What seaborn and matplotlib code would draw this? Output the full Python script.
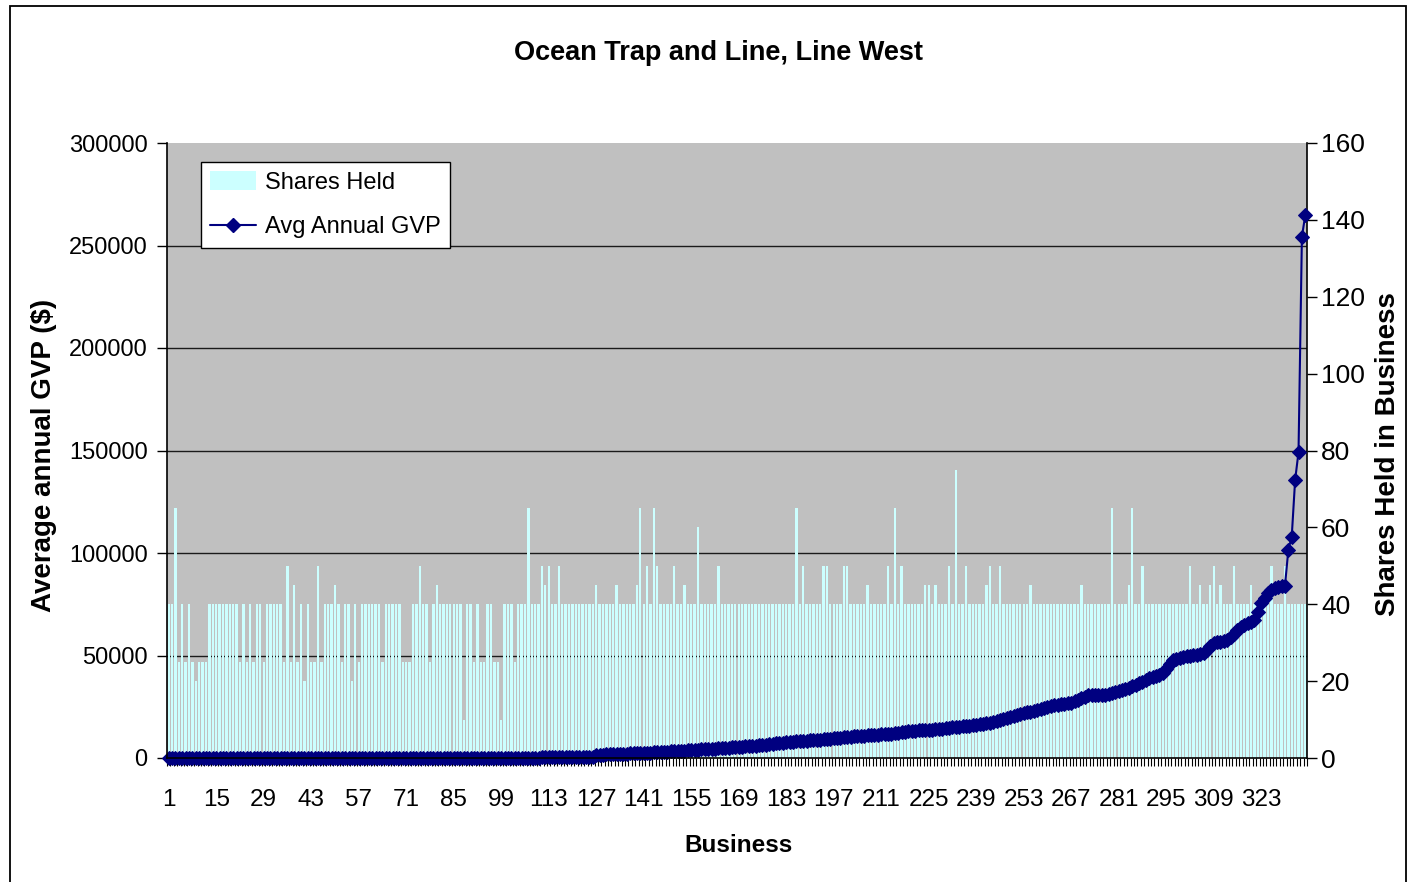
import matplotlib
matplotlib.use("Agg")
import matplotlib.pyplot as plt
import numpy as np
import seaborn as sns
from matplotlib.lines import Line2D
from matplotlib.patches import Patch, Rectangle

# ---- data -------------------------------------------------------------
business = list(range(1, 337))

shares_held = [
    40, 40, 65, 25, 40, 25, 40, 25, 20, 25,
    25, 25, 40, 40, 40, 40, 40, 40, 40, 40,
    40, 25, 40, 25, 40, 25, 40, 40, 25, 40,
    40, 40, 40, 40, 25, 50, 25, 45, 25, 40,
    20, 40, 25, 25, 50, 25, 40, 40, 40, 45,
    40, 25, 40, 40, 20, 40, 25, 40, 40, 40,
    40, 40, 40, 25, 40, 40, 40, 40, 40, 25,
    25, 25, 40, 40, 50, 40, 40, 25, 40, 45,
    40, 40, 40, 40, 40, 40, 40, 10, 40, 40,
    25, 40, 25, 25, 40, 40, 25, 25, 10, 40,
    40, 40, 25, 40, 40, 40, 65, 40, 40, 40,
    50, 45, 50, 40, 40, 50, 40, 40, 40, 40,
    40, 40, 40, 40, 40, 40, 45, 40, 40, 40,
    40, 40, 45, 40, 40, 40, 40, 40, 45, 65,
    40, 50, 40, 65, 50, 40, 40, 40, 40, 50,
    40, 40, 45, 40, 40, 40, 60, 40, 40, 40,
    40, 40, 50, 40, 40, 40, 40, 40, 40, 40,
    40, 40, 40, 40, 40, 40, 40, 40, 40, 40,
    40, 40, 40, 40, 40, 65, 40, 50, 40, 40,
    40, 40, 40, 50, 50, 40, 40, 40, 40, 50,
    50, 40, 40, 40, 40, 40, 45, 40, 40, 40,
    40, 40, 50, 40, 65, 40, 50, 40, 40, 40,
    40, 40, 40, 45, 45, 40, 45, 40, 40, 40,
    50, 40, 75, 40, 40, 50, 40, 40, 40, 40,
    40, 45, 50, 40, 40, 50, 40, 40, 40, 40,
    40, 40, 40, 40, 45, 40, 40, 40, 40, 40,
    40, 40, 40, 40, 40, 40, 40, 40, 40, 45,
    40, 40, 40, 40, 40, 40, 40, 40, 65, 40,
    40, 40, 40, 45, 65, 40, 40, 50, 40, 40,
    40, 40, 40, 40, 40, 40, 40, 40, 40, 40,
    40, 50, 40, 40, 45, 40, 40, 45, 50, 40,
    45, 40, 40, 40, 50, 40, 40, 40, 40, 45,
    40, 40, 40, 40, 40, 50, 40, 40, 40, 50,
    40, 40, 40, 40, 40, 40,
]

avg_gvp = [
    # businesses 1-100
    0, 0, 0, 0, 0, 0, 0, 0, 0, 0,
    0, 0, 0, 0, 0, 0, 0, 0, 0, 0,
    0, 0, 0, 0, 0, 0, 0, 0, 0, 0,
    0, 0, 0, 0, 0, 0, 0, 0, 0, 0,
    0, 0, 0, 0, 0, 0, 0, 0, 0, 0,
    0, 0, 0, 0, 0, 0, 0, 0, 0, 0,
    0, 0, 0, 0, 0, 0, 0, 0, 0, 0,
    0, 0, 0, 0, 0, 0, 0, 0, 0, 0,
    0, 0, 0, 0, 0, 0, 0, 0, 0, 0,
    0, 0, 0, 0, 0, 0, 0, 0, 0, 0,
    # 101-126
    100, 110, 120, 130, 150, 160, 180, 200, 220, 240,
    260, 280, 300, 320, 340, 360, 380, 400, 420, 440,
    460, 480, 500, 520, 540, 560,
    # 127-146
    1500, 1570, 1640, 1710, 1780, 1850, 1920, 1990, 2060, 2130,
    2200, 2270, 2340, 2410, 2480, 2550, 2620, 2700, 2800, 2900,
    # 147-165
    3000, 3100, 3200, 3300, 3400, 3500, 3600, 3700, 3900,
    4000, 4100, 4200, 4300, 4400, 4500, 4600, 4700, 4800, 4900,
    # 166-187
    5000, 5130, 5260, 5390, 5520, 5650, 5780, 5910, 6040, 6170, 6300,
    6500, 6700, 6900, 7100, 7300,
    7470, 7630, 7800, 7970, 8130, 8300,
    # 188-206
    8410, 8520, 8630, 8740, 8860, 8970, 9080, 9190, 9300,
    9530, 9750, 9980, 10200,
    10320, 10430, 10550, 10670, 10780, 10900,
    # 207-227
    11020, 11140, 11270, 11390, 11510, 11630, 11760, 11880, 12000,
    12300, 12600, 12900, 13200,
    13300, 13400, 13500, 13600, 13700, 13800, 13900, 14000,
    # 228-249
    14180, 14360, 14540, 14720, 14900, 15080, 15260, 15440, 15620, 15800,
    16030, 16270, 16500, 16730, 16970, 17200,
    17700, 18200, 18700, 19200, 19700, 20200,
    # 250-272
    20600, 21000, 21400, 21800, 22200, 22600,
    23070, 23530, 24000, 24470, 24930, 25400,
    25670, 25930, 26200, 26470, 26730, 27000,
    27740, 28480, 29220, 29960, 30700,
    # 273-294
    30750, 30800, 30850, 30900, 30950, 31000,
    31550, 32100, 32650, 33200, 33750, 34300,
    35050, 35800, 36550, 37300, 38050, 38800,
    39400, 40000, 40600, 41300,
    # 295-317
    43500, 45700, 47800,
    48300, 48900, 49400,
    49670, 49930, 50200, 50470, 50730, 51000,
    52700, 54500, 56200,
    56500, 56800, 57200, 57500,
    59100, 60700, 62400, 64000,
    # 318-336
    64800, 65700, 66500, 67300,
    71000, 75400,
    78000, 80500, 82000, 83000, 83500, 83800, 84000,
    101500, 108000, 135600, 149200, 254300, 264900,
]

gvp_ticks = [0, 50000, 100000, 150000, 200000, 250000, 300000]
share_ticks = [0, 20, 40, 60, 80, 100, 120, 140, 160]
label_every = 14

# ---- style ------------------------------------------------------------
sns.set_theme(style="white")
plt.rcParams["font.family"] = ["Liberation Sans", "DejaVu Sans"]
plt.rcParams["text.color"] = "black"
plt.rcParams["axes.labelcolor"] = "black"
plt.rcParams["xtick.color"] = "black"
plt.rcParams["ytick.color"] = "black"

BAR_COLOR = "#CCFFFF"
LINE_COLOR = "#000080"
PLOT_BG = "#C0C0C0"

W, H = 1409, 882
fig = plt.figure(figsize=(W / 100, H / 100), dpi=100)
fig.patch.set_facecolor("white")

# plot-area rectangle in figure fractions
left, right, top, bottom = 167, 1307, 143, 758
pos = [left / W, 1 - bottom / H, (right - left) / W, (bottom - top) / H]

# chart-area border
fig.patches.append(Rectangle((10 / W, -0.05), (1406 - 10) / W, 1 - 6 / H + 0.05,
                             transform=fig.transFigure, fill=False,
                             edgecolor="black", linewidth=1.3, zorder=0))

idx = np.arange(len(business))
xlim = (-0.5, len(business) - 0.5)

# background axes: grey plot area and value gridlines (behind the bars)
bg = fig.add_axes(pos)
bg.set_facecolor(PLOT_BG)
bg.set_xlim(xlim)
bg.set_ylim(gvp_ticks[0], gvp_ticks[-1])
for g in gvp_ticks[1:-1]:
    bg.axhline(g, color="#1a1a1a", linewidth=1.0)
bg.set_xticks([])
bg.set_yticks([])
for s in bg.spines.values():
    s.set_visible(False)

# bars: shares held, right-hand axis
axr = fig.add_axes(pos)
axr.patch.set_visible(False)
sns.barplot(x=business, y=shares_held, color=BAR_COLOR, saturation=1,
            width=0.7, linewidth=0, ax=axr)
axr.set_xlim(xlim)
axr.set_ylim(share_ticks[0], share_ticks[-1])
axr.set_xticks([])
axr.set_xlabel("")
axr.set_ylabel("")
axr.yaxis.tick_right()
axr.set_yticks(share_ticks)
axr.set_yticklabels([str(t) for t in share_ticks], fontsize=19)
axr.tick_params(axis="y", which="major", direction="out", length=7, width=1,
                color="black", pad=3, labelcolor="black", right=True, left=False)
for name, s in axr.spines.items():
    s.set_visible(name == "right")
axr.spines["right"].set_color("black")
axr.spines["right"].set_linewidth(1.2)

# line: average annual GVP, left-hand axis
axl = fig.add_axes(pos)
axl.patch.set_visible(False)
sns.lineplot(x=idx, y=avg_gvp, color=LINE_COLOR, linewidth=1.5, marker="D",
             markersize=7, markeredgecolor=LINE_COLOR, markerfacecolor=LINE_COLOR,
             clip_on=False, ax=axl)
axl.set_xlim(xlim)
axl.set_ylim(gvp_ticks[0], gvp_ticks[-1])
axl.set_yticks(gvp_ticks)
axl.set_yticklabels([str(t) for t in gvp_ticks], fontsize=17)
axl.set_xticks(idx[::label_every])
axl.set_xticklabels([str(b) for b in business[::label_every]], fontsize=17.5)
axl.set_xticks(np.arange(len(business) + 1) - 0.5, minor=True)
axl.tick_params(axis="x", which="major", length=0, pad=22, labelcolor="black")
axl.tick_params(axis="x", which="minor", direction="out", length=6, width=0.8,
                color="black", bottom=True)
axl.tick_params(axis="y", which="major", direction="out", length=7, width=1,
                color="black", pad=7, labelcolor="black", left=True)
axl.set_xlabel("")
axl.set_ylabel("")
for name, s in axl.spines.items():
    s.set_visible(name in ("left", "bottom"))
    s.set_color("black")
    s.set_linewidth(1.2)

# legend
handles = [
    Patch(facecolor=BAR_COLOR, edgecolor="none", label="Shares Held"),
    Line2D([], [], color=LINE_COLOR, linewidth=1.5, marker="D", markersize=7,
           label="Avg Annual GVP"),
]
leg = axl.legend(handles=handles, loc="upper left",
                 bbox_to_anchor=((201 - left) / (right - left), (bottom - 162) / (bottom - top)),
                 borderaxespad=0, frameon=True, fancybox=False, framealpha=1,
                 edgecolor="black", facecolor="white", fontsize=17,
                 handlelength=1.95, handleheight=0.8, handletextpad=0.35,
                 borderpad=0.4, labelspacing=0.95)
leg.get_frame().set_linewidth(1.0)
for t in leg.get_texts():
    t.set_color("black")

# titles
fig.text(718 / W, 1 - 53 / H, "Ocean Trap and Line, Line West",
         ha="center", va="center", fontsize=19.5, fontweight="bold", color="black")
fig.text(738 / W, 1 - 846 / H, "Business",
         ha="center", va="center", fontsize=17.5, fontweight="bold", color="black")
fig.text(44 / W, 1 - 455 / H, "Average annual GVP ($)", rotation=90,
         ha="center", va="center", fontsize=20, fontweight="bold", color="black")
fig.text(1388 / W, 1 - 454 / H, "Shares Held in Business", rotation=90,
         ha="center", va="center", fontsize=20, fontweight="bold", color="black")

fig.savefig("out.png", dpi=100, facecolor="white")
